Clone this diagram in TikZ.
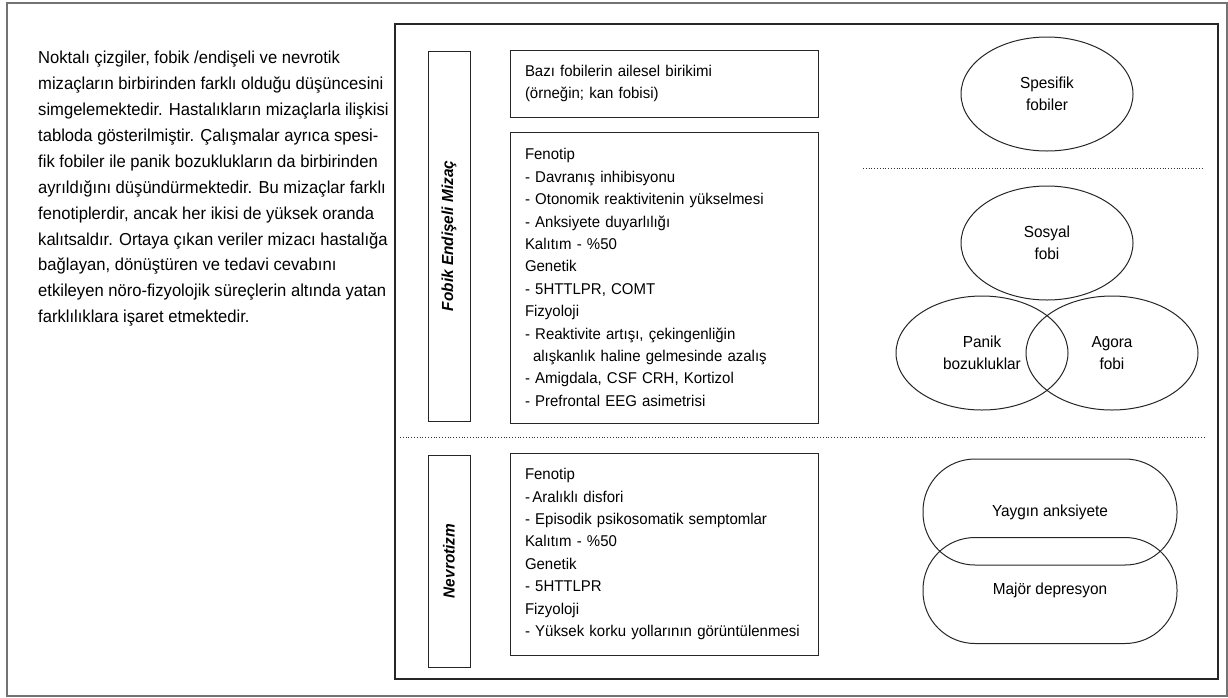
\documentclass[tikz,border=0pt]{standalone}
\usepackage{fontspec}
\setmainfont{Liberation Sans}[FakeStretch=0.96]
\usetikzlibrary{shapes.geometric}
\begin{document}
\begin{tikzpicture}[x=1pt,y=-1pt,
    cizgi/.style={draw=black!85, line width=1pt},
    kutu/.style={cizgi, inner xsep=15pt, inner ysep=0pt, text width=278pt, align=left,
      font=\fontsize{15.6}{22.4}\selectfont},
    etiket/.style={cizgi, rotate=90, minimum height=42pt, inner sep=0pt,
      font=\fontsize{16}{18}\selectfont\bfseries\itshape},
    elips/.style={cizgi, ellipse, minimum width=172pt, minimum height=114pt, inner sep=0pt,
      align=center, font=\fontsize{16}{21.5}\selectfont},
    kapsul/.style={cizgi, rounded corners=52pt, minimum width=254pt, minimum height=106pt,
      font=\fontsize{16}{22}\selectfont},
    ayrac/.style={black!80, line width=0.8pt, dotted}]
  \useasboundingbox (0,0) rectangle (1228,697);
  \draw[black!55, line width=1.5pt] (7,3) rectangle (1227,696);
  \draw[cizgi, line width=1.3pt] (395,24) rectangle (1218,679);
  \node[anchor=north west, inner sep=0pt, align=left,
    font=\fontsize{17.3}{25.9}\selectfont] (aciklama) at (38,51)
    {Noktalı çizgiler, fobik /endişeli ve nevrotik\\
     mizaçların birbirinden farklı olduğu düşüncesini\\
     simgelemektedir. Hastalıkların mizaçlarla ilişkisi\\
     tabloda gösterilmiştir. Çalışmalar ayrıca spesi-\\
     fik fobiler ile panik bozuklukların da birbirinden\\
     ayrıldığını düşündürmektedir. Bu mizaçlar farklı\\
     fenotiplerdir, ancak her ikisi de yüksek oranda\\
     kalıtsaldır. Ortaya çıkan veriler mizacı hastalığa\\
     bağlayan, dönüştüren ve tedavi cevabını\\
     etkileyen nöro-fizyolojik süreçlerin altında yatan\\
     farklılıklara işaret etmektedir.};
  \node[etiket, minimum width=370pt] (fobik) at (449,236) {Fobik Endişeli Mizaç};
  \node[etiket, minimum width=212pt] (nevrotizm) at (449,561) {Nevrotizm};
  \node[kutu, minimum height=67pt] (birikim) at (664,83.5)
    {Bazı fobilerin ailesel birikimi\\(örneğin; kan fobisi)};
  \node[kutu, minimum height=291pt] (fobikozellik) at (664,277.5)
    {Fenotip\\
     - Davranış inhibisyonu\\
     - Otonomik reaktivitenin yükselmesi\\
     - Anksiyete duyarlılığı\\
     Kalıtım - \%50\\
     Genetik\\
     - 5HTTLPR, COMT\\
     Fizyoloji\\
     - Reaktivite artışı, çekingenliğin\\
     \hspace*{8pt}alışkanlık haline gelmesinde azalış\\
     - Amigdala, CSF CRH, Kortizol\\
     - Prefrontal EEG asimetrisi};
  \node[kutu, minimum height=202pt] (nevrozellik) at (664,554)
    {Fenotip\\
     -\hspace{2.5pt}Aralıklı disfori\\
     - Episodik psikosomatik semptomlar\\
     Kalıtım - \%50\\
     Genetik\\
     - 5HTTLPR\\
     Fizyoloji\\
     - Yüksek korku yollarının görüntülenmesi};
  \node[elips] (spesifik) at (1047,94) {Spesifik\\fobiler};
  \node[elips] (sosyal) at (1047,243) {Sosyal\\fobi};
  \node[elips] (panik) at (982,353) {Panik\\bozukluklar};
  \node[elips] (agora) at (1112,353) {Agora\\fobi};
  \node[kapsul] (yaygin) at (1050,512) {Yaygın anksiyete};
  \node[kapsul] (majör) at (1050,590.5) {Majör depresyon};
  \draw[ayrac] (863,168) -- (1203,168);
  \draw[ayrac] (400,437) -- (1205,437);
\end{tikzpicture}
\end{document}
